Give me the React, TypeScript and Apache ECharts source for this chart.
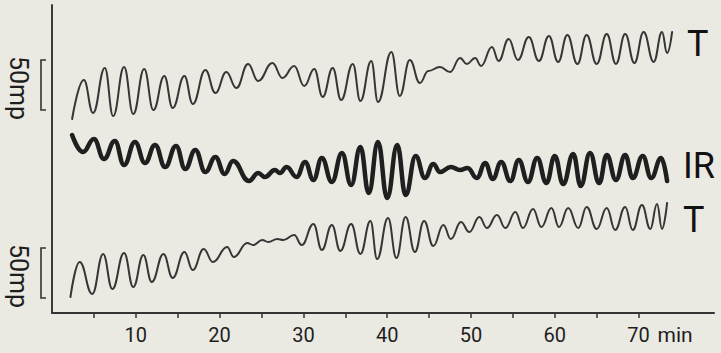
import React, { useEffect, useRef } from "react";
import * as echarts from "echarts";

// Time axis (minutes)
const tickMinutes = [5, 10, 15, 20, 25, 30, 35, 40, 45, 50, 55, 60, 65, 70];
const labelMinutes = [10, 20, 30, 40, 50, 60, 70];

// Upper tension trace (T), amplitude in mp above baseline
const t1Time = [2.4, 3.8, 4.9, 6.3, 7.3, 8.6, 9.7, 11.0, 12.1, 13.4, 14.4, 15.8, 16.8, 18.3, 19.5, 20.8, 22.0, 23.4, 24.6, 26.3, 27.5, 28.9, 30.1, 31.3, 32.3, 33.5, 34.5, 35.9, 36.8, 38.1, 38.9, 40.5, 41.5, 42.7, 43.9, 44.9, 46.3, 47.5, 48.7, 49.5, 50.5, 51.2, 52.5, 53.3, 54.5, 55.6, 56.9, 58.1, 59.3, 60.4, 61.5, 62.7, 63.8, 65.0, 66.2, 67.3, 68.4, 69.5, 70.6, 71.8, 72.8, 73.4, 74.0];
const t1Amp = [194, 233, 200, 245, 197, 246, 199, 244, 203, 237, 205, 237, 209, 243, 220, 241, 225, 249, 232, 250, 235, 247, 227, 244, 216, 245, 213, 249, 212, 252, 211, 261, 217, 253, 230, 242, 246, 241, 255, 249, 255, 247, 266, 252, 274, 253, 276, 252, 277, 251, 278, 249, 278, 249, 279, 249, 279, 250, 281, 251, 281, 260, 281];

// Infrared trace (IR)
const irTime = [2.4, 3.7, 5.0, 6.2, 7.5, 8.6, 9.9, 11.1, 12.3, 13.5, 14.8, 15.9, 17.1, 18.3, 19.5, 20.6, 21.6, 23.5, 24.6, 25.4, 26.6, 27.2, 28.0, 29.2, 30.2, 31.2, 32.2, 33.4, 34.6, 35.7, 36.8, 37.8, 38.9, 40.0, 41.2, 42.2, 43.4, 44.5, 45.5, 46.3, 47.6, 48.7, 49.6, 50.7, 51.7, 52.6, 53.6, 54.7, 55.7, 56.8, 57.9, 59.0, 60.0, 61.0, 62.2, 63.1, 64.2, 65.3, 66.2, 67.3, 68.4, 69.3, 70.5, 71.5, 72.7, 73.4];
const irAmp = [178, 161, 174, 154, 172, 148, 171, 150, 168, 146, 167, 144, 163, 141, 156, 139, 152, 132, 140, 136, 143, 140, 146, 136, 151, 133, 155, 131, 160, 128, 166, 120, 171, 115, 168, 118, 157, 135, 149, 141, 146, 143, 145, 135, 150, 134, 151, 132, 153, 131, 155, 130, 157, 129, 159, 127, 160, 130, 158, 133, 158, 135, 157, 135, 155, 132];

// Lower tension trace (T)
const t2Time = [2.2, 3.3, 4.8, 6.1, 7.2, 8.6, 9.7, 10.9, 11.9, 13.3, 14.4, 15.8, 16.8, 18.1, 19.2, 20.9, 21.7, 23.3, 24.0, 25.1, 25.8, 26.9, 27.6, 28.9, 29.8, 31.2, 32.2, 33.4, 34.4, 35.7, 36.8, 38.0, 38.8, 40.1, 41.1, 42.2, 43.3, 44.4, 45.5, 46.7, 47.6, 48.8, 49.8, 51.0, 51.9, 53.1, 54.1, 55.3, 56.2, 57.4, 58.4, 59.6, 60.5, 61.6, 62.8, 63.8, 65.0, 66.2, 67.2, 68.4, 69.3, 70.4, 71.4, 72.2, 72.8, 73.4];
const t2Amp = [16, 51, 19, 59, 24, 60, 26, 58, 31, 59, 35, 61, 43, 64, 51, 66, 56, 70, 68, 73, 71, 74, 73, 78, 68, 89, 63, 88, 62, 89, 59, 92, 54, 95, 55, 96, 61, 92, 67, 88, 74, 91, 81, 96, 85, 98, 85, 101, 85, 104, 86, 105, 86, 105, 85, 106, 84, 105, 83, 106, 83, 108, 84, 109, 84, 110];

// Calibration bars: 50 mp, bottom value of each bar
const scaleBarMp = 50;
const scaleBarBases = [203, 15];
const scaleBarText = "50mp";

const traceNames = ["T", "IR", "T"];

export default function App() {
  const ref = useRef<HTMLDivElement>(null);

  useEffect(() => {
    const chart = echarts.init(ref.current!, null, { renderer: "svg" });
    const pair = (ts: number[], vs: number[]) => ts.map((t, i) => [t, vs[i]]);
    const lineSeries = (name: string, data: number[][], width: number, color: string) => ({
      type: "line",
      name,
      data,
      smooth: 0.45,
      smoothMonotone: "x",
      symbol: "none",
      silent: true,
      lineStyle: { width, color, cap: "round", join: "round" },
    });

    chart.setOption({
      animation: false,
      backgroundColor: "transparent",
      grid: { left: 52, right: 7, top: 5, bottom: 40 },
      xAxis: {
        type: "value",
        min: 0,
        max: 79,
        interval: 5,
        axisLine: { show: true, lineStyle: { color: "#333", width: 2 } },
        axisTick: {
          show: true,
          customValues: tickMinutes,
          length: 5,
          lineStyle: { color: "#333", width: 1.5 },
        },
        axisLabel: {
          customValues: labelMinutes,
          margin: 12,
          fontSize: 20,
          fontFamily: "Roboto",
          color: "#1e1e1e",
        },
        splitLine: { show: false },
      },
      yAxis: {
        type: "value",
        min: 0,
        max: 308,
        axisLine: { show: true, lineStyle: { color: "#3a3a3a", width: 2 } },
        axisTick: { show: false },
        axisLabel: { show: false },
        splitLine: { show: false },
      },
      series: [
        lineSeries("T upper", pair(t1Time, t1Amp), 2, "#363636"),
        lineSeries("IR", pair(irTime, irAmp), 4.5, "#1f1f1f"),
        lineSeries("T lower", pair(t2Time, t2Amp), 2, "#363636"),
      ],
    });

    const px = (t: number, v: number) => chart.convertToPixel({ gridIndex: 0 }, [t, v]) as number[];
    const graphic: any[] = [];
    const gridLeft = px(0, 0)[0];

    scaleBarBases.forEach((base) => {
      const bottom = px(0, base)[1];
      const top = px(0, base + scaleBarMp)[1];
      const bx = gridLeft - 11;
      graphic.push({
        type: "polyline",
        shape: { points: [[bx + 5, top], [bx, top], [bx, bottom], [bx + 5, bottom]] },
        style: { stroke: "#333", lineWidth: 1.6, fill: null },
        silent: true,
      });
      graphic.push({
        type: "text",
        x: gridLeft - 34,
        y: (top + bottom) / 2 + 3,
        rotation: -Math.PI / 2,
        style: {
          text: scaleBarText,
          fontSize: 25,
          fontFamily: "Roboto",
          fill: "#1e1e1e",
          align: "center",
          verticalAlign: "middle",
        },
        silent: true,
      });
    });

    const ends = [
      [t1Time[t1Time.length - 1], t1Amp[t1Amp.length - 1], 15, 12],
      [irTime[irTime.length - 1], irAmp[irAmp.length - 1], 16, -15],
      [t2Time[t2Time.length - 1], t2Amp[t2Amp.length - 1], 16, 17],
    ];
    ends.forEach(([t, v, dx, dy], i) => {
      const p = px(t, v);
      graphic.push({
        type: "text",
        x: p[0] + dx,
        y: p[1] + dy,
        style: {
          text: traceNames[i],
          fontSize: 36,
          fontFamily: "Roboto",
          fill: "#111",
          align: "left",
          verticalAlign: "middle",
        },
        silent: true,
      });
    });

    const p70 = px(70, 0);
    graphic.push({
      type: "text",
      x: p70[0] + 19,
      y: p70[1] + 22,
      style: {
        text: "min",
        fontSize: 21,
        fontFamily: "Roboto",
        fill: "#1e1e1e",
        align: "left",
        verticalAlign: "middle",
      },
      silent: true,
    });

    chart.setOption({ graphic });

    return () => chart.dispose();
  }, []);

  return (
    <div
      ref={ref}
      style={{ position: "fixed", left: 0, top: 0, width: 721, height: 353, background: "#eae9e2" }}
    />
  );
}
